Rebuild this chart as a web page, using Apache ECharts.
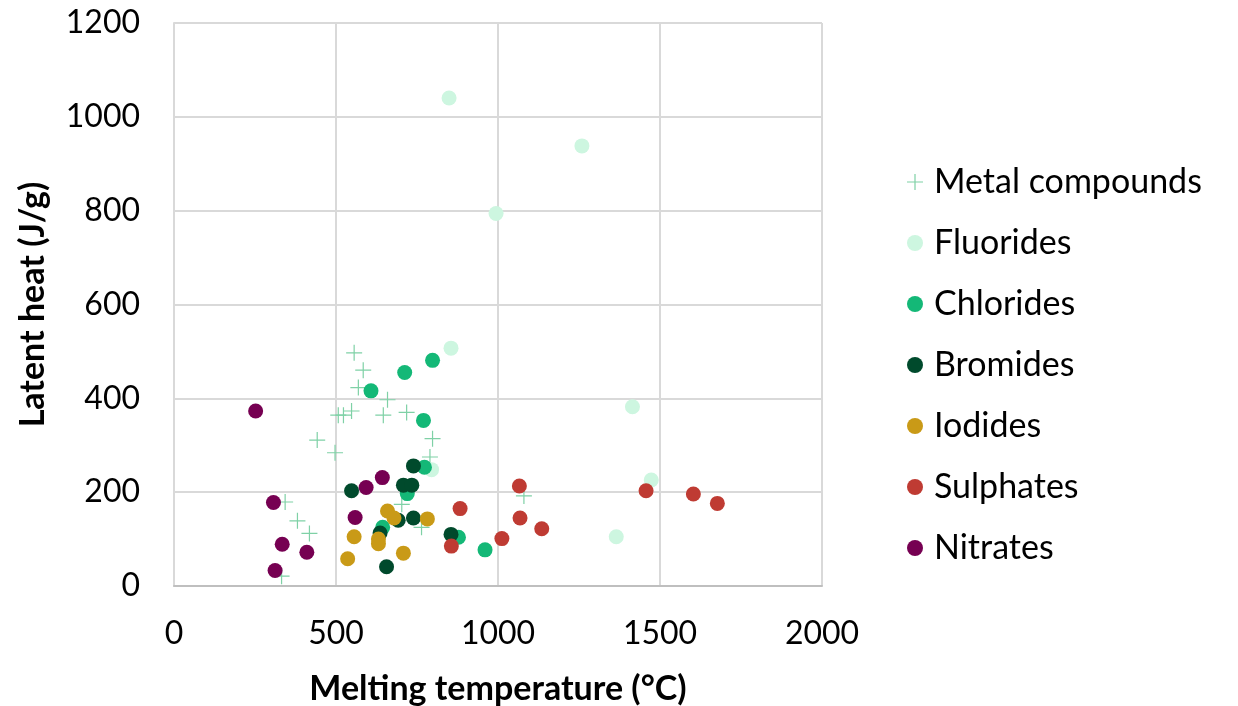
<!DOCTYPE html>
<html lang="en">
<head>
<meta charset="utf-8" />
<style>
  body { margin: 0; background: #fff; overflow: hidden; }
  .box { width: 1238px; height: 706px; }
</style>
</head>
<body>
<div class="box"></div>
<script src="https://cdn.jsdelivr.net/npm/echarts@6/dist/echarts.min.js"></script>
<script>
// data: [melting temperature (°C), latent heat (J/g)]
var metalCompounds = [
  [556, 497], [584, 460], [569, 423], [659, 397], [507, 364], [523, 364],
  [548, 373], [646, 364], [718, 370], [442, 311], [497, 284], [798, 314],
  [790, 275], [343, 179], [381, 139], [418, 112], [332, 21], [703, 174],
  [764, 125], [1080, 192]
];
var fluorides = [
  [849, 1040], [1259, 938], [994, 794], [855, 507], [1415, 382],
  [1473, 226], [1365, 105], [795, 248]
];
var chlorides = [
  [798, 481], [712, 455], [608, 416], [770, 353], [773, 253], [720, 197],
  [644, 125], [878, 104], [960, 77]
];
var bromides = [
  [739, 256], [548, 203], [708, 215], [734, 215], [692, 140], [739, 145],
  [636, 113], [855, 110], [656, 41]
];
var iodides = [
  [659, 160], [679, 145], [782, 143], [556, 105], [631, 100], [631, 90],
  [708, 70], [536, 58]
];
var sulphates = [
  [883, 165], [856, 85], [1066, 213], [1068, 145], [1135, 122], [1012, 101],
  [1457, 203], [1603, 196], [1677, 176]
];
var nitrates = [
  [252, 373], [643, 231], [593, 210], [307, 178], [559, 146], [334, 89],
  [410, 72], [312, 33]
];

var seriesNames = ['Metal compounds', 'Fluorides', 'Chlorides', 'Bromides', 'Iodides', 'Sulphates', 'Nitrates'];
var seriesData = [metalCompounds, fluorides, chlorides, bromides, iodides, sulphates, nitrates];
var seriesColors = ['#7fd1a6', '#cdf6e0', '#14b877', '#004a2c', '#c99a17', '#bf3b33', '#760052'];

var plusPath = 'path://M0,7.4L16,7.4L16,8.6L0,8.6Z M7.4,0L8.6,0L8.6,16L7.4,16Z';

var myChart = echarts.init(document.querySelector('.box'));

var series = seriesNames.map(function (name, i) {
  var isPlus = i === 0;
  return {
    name: name,
    type: 'scatter',
    data: seriesData[i],
    symbol: isPlus ? plusPath : 'circle',
    symbolSize: isPlus ? 16 : 15,
    itemStyle: { color: seriesColors[i], opacity: 1 },
    z: 2 + i
  };
});

var font = 'Lato, "Open Sans", sans-serif';

var option = {
  backgroundColor: '#fff',
  animation: false,
  textStyle: { fontFamily: font },
  grid: { left: 174, right: 416, top: 23, bottom: 120, containLabel: false, outerBoundsMode: 'none' },
  legend: {
    orient: 'vertical',
    left: 902,
    top: 160,
    itemWidth: 16,
    itemHeight: 16,
    itemGap: 27,
    icon: 'circle',
    data: seriesNames.map(function (n, i) {
      return i === 0 ? { name: n, icon: plusPath } : { name: n };
    }),
    textStyle: { fontSize: 34, color: '#000', fontFamily: font, lineHeight: 34, padding: [0, 0, 0, 6] }
  },
  xAxis: {
    type: 'value',
    min: 0,
    max: 2000,
    interval: 500,
    name: 'Melting temperature (°C)',
    nameLocation: 'middle',
    nameGap: 86,
    nameTextStyle: { fontSize: 34, fontWeight: 'bold', color: '#000', fontFamily: font },
    axisLine: { show: true, lineStyle: { color: '#bfbfbf', width: 2 } },
    axisTick: { show: false },
    axisLabel: { fontSize: 32, color: '#000', margin: 32, fontFamily: font, formatter: function (v) { return String(v); } },
    splitLine: { show: true, lineStyle: { color: '#d9d9d9', width: 2 } }
  },
  yAxis: {
    type: 'value',
    min: 0,
    max: 1200,
    interval: 200,
    name: 'Latent heat (J/g)',
    nameLocation: 'middle',
    nameGap: 124,
    nameTextStyle: { fontSize: 34, fontWeight: 'bold', color: '#000', fontFamily: font },
    axisLine: { show: true, lineStyle: { color: '#d9d9d9', width: 2 } },
    axisTick: { show: false },
    axisLabel: { fontSize: 32, color: '#000', margin: 34, fontFamily: font, formatter: function (v) { return String(v); } },
    splitLine: { show: true, lineStyle: { color: '#d9d9d9', width: 2 } }
  },
  series: series
};

myChart.setOption(option);
</script>
</body>
</html>
